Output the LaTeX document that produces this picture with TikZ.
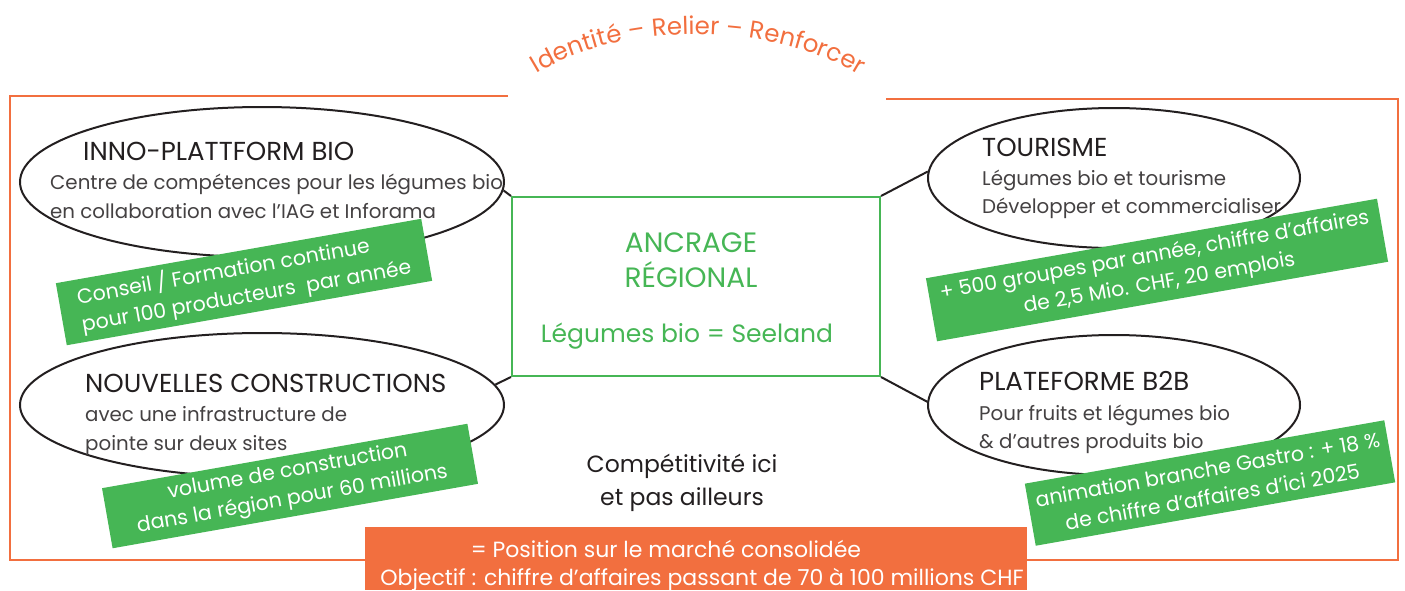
\documentclass[tikz,border=0pt]{standalone}
\usepackage{fontspec}
\setmainfont{Poppins}
\usetikzlibrary{shapes.geometric,decorations.text}
\definecolor{sorange}{HTML}{F26F3F}
\definecolor{sgreen}{HTML}{46B655}
\definecolor{sink}{HTML}{231F20}
\newcommand{\fsz}[1]{\fontsize{#1}{#1}\selectfont}

\begin{document}
\begin{tikzpicture}[x=1pt,y=-1pt,
    BUB/.style={ellipse, draw=sink, line width=2pt, inner sep=0pt},
    GRN/.style={fill=sgreen, text=white, rotate=10, align=center, inner sep=0pt, font=\fontsize{20.5}{28}\selectfont},
    TTL/.style={anchor=base west, inner sep=0pt, text=sink, font=\fsz{26}},
    TXT/.style={anchor=base west, inner sep=0pt, text=sink!85, font=\fsz{19.8}},
    MID/.style={anchor=base, inner sep=0pt, text=sgreen, font=\fsz{28}},
    LNK/.style={draw=sink, line width=2pt}
    ]
        \useasboundingbox (0,0) rectangle (1405,590);
        % frame and motto
        \draw[sorange, line width=2.5pt] (508,96) -- (10,96) -- (10,560) -- (1398,560) -- (1398,99) -- (886,99);
        \path[decorate, decoration={text along path, text align=center,
            text={|\fsz{24.5}\color{sorange}|Identit{é} {–} Relier {–} Renforcer}}]
            (524,82) .. controls (612,18) and (782,18) .. (872,84);
        % centre
        \node[draw=sgreen, line width=2pt, minimum width=368pt, minimum height=179pt] (anker) at (696,286.5) {};
        \node[MID] (anker-a) at (691,252) {ANCRAGE};
        \node[MID] (anker-b) at (691,287) {RÉGIONAL};
        \node[MID, font=\fsz{25}] (anker-c) at (687,342) {Légumes bio = Seeland};
        % the four fields
        \node[BUB, minimum width=484pt, minimum height=150pt] (inno) at (262,182) {};
        \node[BUB, minimum width=484pt, minimum height=144pt] (bau) at (262,405) {};
        \node[BUB, minimum width=372pt, minimum height=140pt] (tour) at (1114,178) {};
        \node[BUB, minimum width=372pt, minimum height=140pt] (btob) at (1114,405) {};
        \draw[LNK] (anker.north west) -- (inno.-2);
        \draw[LNK] (anker.south west) -- (bau.5);
        \draw[LNK] (anker.north east) -- (tour.178);
        \draw[LNK] (anker.south east) -- (btob.179);
        \node[TTL] (inno-t) at (83,160) {INNO-PLATTFORM BIO};
        \node[TXT] (inno-a) at (50,189) {Centre de compétences pour les légumes bio};
        \node[TXT] (inno-b) at (50,218) {en collaboration avec l’IAG et Inforama};
        \node[TTL] (bau-t) at (85,392) {NOUVELLES CONSTRUCTIONS};
        \node[TXT] (bau-a) at (85,421) {avec une infrastructure de};
        \node[TXT] (bau-b) at (85,450) {pointe sur deux sites};
        \node[TTL] (tour-t) at (982,156) {TOURISME};
        \node[TXT] (tour-a) at (982,185) {Légumes bio et tourisme};
        \node[TXT] (tour-b) at (982,213) {Développer et commercialiser};
        \node[TTL] (btob-t) at (979,390) {PLATEFORME B2B};
        \node[TXT] (btob-a) at (979,420) {Pour fruits et légumes bio};
        \node[TXT] (btob-b) at (979,448) {\& d’autres produits bio};
        % figures
        \node[GRN, align=left, minimum width=371pt, minimum height=63pt] (inno-z) at (244,282) {Conseil / Formation continue\\pour 100 producteurs\ \ par année};
        \node[GRN, minimum width=371pt, minimum height=61pt] (bau-z) at (290,486) {volume de construction\\dans la région pour 60 millions};
        \node[GRN, minimum width=458pt, minimum height=64pt] (tour-z) at (1157,270) {+ 500 groupes par année, chiffre d’affaires\\de 2,5 Mio. CHF, 20 emplois};
        \node[GRN, minimum width=365pt, minimum height=63pt] (btob-z) at (1210,483) {animation branche Gastro : + 18 \%\\de chiffre d’affaires d’ici 2025};
        % bottom
        \node[anchor=base, inner sep=0pt, text=sink, font=\fsz{23.5}] (comp-a) at (682,472) {Compétitivité ici};
        \node[anchor=base, inner sep=0pt, text=sink, font=\fsz{23.5}] (comp-b) at (682,505) {et pas ailleurs};
        \node[fill=sorange, anchor=north west, minimum width=662pt, minimum height=63pt] (markt) at (365,527) {};
        \node[anchor=base, inner sep=0pt, text=white, font=\fsz{22}] (markt-a) at (666,557) {= Position sur le marché consolidée};
        \node[anchor=base, inner sep=0pt, text=white, font=\fsz{22}] (markt-b) at (702,585) {Objectif : chiffre d’affaires passant de 70 à 100 millions CHF};
    \end{tikzpicture}
\end{document}
